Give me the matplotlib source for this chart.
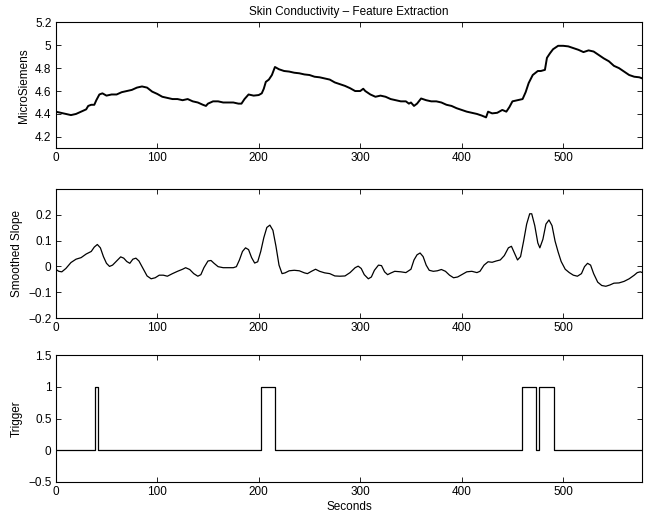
import matplotlib
matplotlib.use('Agg')
import matplotlib.pyplot as plt

plt.rcParams['font.family'] = ['Liberation Sans', 'DejaVu Sans']
plt.rcParams['font.size'] = 8.5

# skin conductivity (microsiemens)
sc_t = [0, 5, 10, 15, 20, 25, 30, 32, 35, 38, 40, 43, 46, 50, 55, 60, 65, 70, 75, 80,
        85, 90, 95, 100, 105, 110, 115, 120, 125, 130, 135, 140, 145, 148, 150, 155,
        160, 165, 170, 175, 180, 183, 186, 190, 195, 200, 203, 205, 207, 210, 213, 216,
        218, 220, 225, 230, 235, 240, 245, 250, 255, 260, 265, 270, 275, 280, 285, 290,
        295, 300, 303, 305, 310, 315, 320, 325, 330, 335, 340, 345, 348, 350, 353, 356,
        360, 365, 370, 375, 380, 385, 390, 395, 400, 405, 410, 415, 420, 424, 426, 430,
        435, 440, 444, 447, 450, 455, 460, 463, 466, 470, 475, 478, 482, 484, 487, 490,
        495, 500, 505, 510, 515, 520, 525, 530, 535, 540, 545, 550, 555, 560, 565, 570,
        575, 578]
sc_v = [4.42, 4.41, 4.40, 4.39, 4.40, 4.42, 4.44, 4.47, 4.48, 4.48, 4.52, 4.57, 4.58,
        4.56, 4.57, 4.57, 4.59, 4.60, 4.61, 4.63, 4.64, 4.63, 4.595, 4.575, 4.55, 4.54,
        4.53, 4.53, 4.52, 4.53, 4.51, 4.50, 4.48, 4.47, 4.49, 4.51, 4.51, 4.50, 4.50,
        4.50, 4.49, 4.49, 4.53, 4.57, 4.56, 4.565, 4.58, 4.62, 4.68, 4.70, 4.74, 4.81,
        4.80, 4.79, 4.775, 4.77, 4.76, 4.755, 4.745, 4.74, 4.725, 4.72, 4.71, 4.70,
        4.675, 4.66, 4.645, 4.625, 4.60, 4.60, 4.62, 4.60, 4.57, 4.55, 4.56, 4.55, 4.53,
        4.52, 4.51, 4.51, 4.49, 4.50, 4.47, 4.49, 4.535, 4.52, 4.51, 4.51, 4.50, 4.48,
        4.47, 4.45, 4.435, 4.42, 4.41, 4.40, 4.385, 4.37, 4.42, 4.405, 4.41, 4.435,
        4.42, 4.46, 4.51, 4.52, 4.53, 4.59, 4.67, 4.74, 4.775, 4.775, 4.785, 4.89, 4.93,
        4.965, 4.995, 4.995, 4.99, 4.975, 4.96, 4.94, 4.955, 4.945, 4.915, 4.885, 4.86,
        4.82, 4.80, 4.77, 4.74, 4.725, 4.72, 4.71]

# smoothed slope
sl_t = [0, 3, 6, 10, 15, 20, 25, 30, 35, 38, 41, 44, 47, 50, 53, 56, 60, 64, 67, 70,
        73, 76, 79, 82, 86, 90, 94, 98, 102, 106, 110, 115, 120, 125, 128, 132, 136,
        140, 143, 146, 150, 153, 156, 160, 165, 170, 175, 178, 181, 184, 187, 190, 193,
        196, 199, 202, 205, 208, 211, 214, 217, 220, 223, 226, 230, 235, 240, 245, 248,
        252, 256, 260, 265, 270, 275, 280, 285, 290, 295, 298, 301, 304, 308, 311, 314,
        318, 321, 324, 327, 330, 334, 340, 345, 350, 353, 356, 359, 362, 365, 368, 372,
        376, 380, 384, 388, 392, 396, 400, 405, 410, 415, 418, 422, 426, 430, 434, 438,
        442, 446, 449, 452, 455, 458, 461, 464, 467, 469, 472, 475, 477, 480, 483, 486,
        489, 492, 495, 498, 502, 506, 510, 514, 518, 521, 524, 527, 530, 534, 538, 542,
        546, 550, 555, 560, 565, 570, 573, 576, 578]
sl_v = [-0.011, -0.019, -0.021, -0.008, 0.015, 0.028, 0.034, 0.048, 0.058, 0.075,
        0.085, 0.072, 0.038, 0.012, 0.0, 0.005, 0.021, 0.037, 0.032, 0.019, 0.012,
        0.028, 0.032, 0.021, -0.008, -0.037, -0.048, -0.044, -0.034, -0.034, -0.038,
        -0.028, -0.019, -0.011, -0.005, -0.012, -0.028, -0.038, -0.032, -0.005, 0.021,
        0.023, 0.012, -0.001, -0.005, -0.005, -0.005, -0.001, 0.025, 0.058, 0.072,
        0.065, 0.034, 0.013, 0.018, 0.058, 0.111, 0.151, 0.160, 0.140, 0.078, 0.005,
        -0.028, -0.025, -0.017, -0.015, -0.017, -0.025, -0.028, -0.019, -0.011, -0.019,
        -0.025, -0.028, -0.037, -0.038, -0.037, -0.024, -0.005, 0.001, -0.008, -0.032,
        -0.048, -0.041, -0.015, 0.005, 0.003, -0.021, -0.032, -0.026, -0.019, -0.021,
        -0.024, -0.011, 0.025, 0.045, 0.052, 0.038, 0.005, -0.015, -0.019, -0.017,
        -0.012, -0.019, -0.034, -0.044, -0.041, -0.032, -0.021, -0.019, -0.024, -0.019,
        0.005, 0.018, 0.016, 0.021, 0.025, 0.042, 0.072, 0.078, 0.052, 0.025, 0.038,
        0.098, 0.164, 0.204, 0.204, 0.158, 0.091, 0.072, 0.105, 0.164, 0.180, 0.158,
        0.098, 0.056, 0.019, -0.011, -0.024, -0.034, -0.038, -0.028, -0.001, 0.012,
        0.005, -0.028, -0.061, -0.074, -0.077, -0.072, -0.065, -0.064, -0.058, -0.048,
        -0.034, -0.024, -0.021, -0.024]

# trigger on/off edges
trig_t = [0, 38.5, 38.5, 41.7, 41.7, 202.4, 202.4, 215.8, 215.8, 459.5, 459.5, 473.7,
          473.7, 476.5, 476.5, 491.1, 491.1, 578]
trig_v = [0, 0, 1, 1, 0, 0, 1, 1, 0, 0, 1, 1, 0, 0, 1, 1, 0, 0]

x_ticks = [0, 100, 200, 300, 400, 500]

fig = plt.figure(figsize=(6.45, 5.18), dpi=100)
ax1 = fig.add_axes([0.0864, 0.7137, 0.9095, 0.2432])
ax2 = fig.add_axes([0.0864, 0.3861, 0.9095, 0.2490])
ax3 = fig.add_axes([0.0864, 0.0695, 0.9095, 0.2450])

for ax in (ax1, ax2, ax3):
    ax.set_xlim(0, 578)
    ax.set_xticks(x_ticks)
    ax.tick_params(direction='in', length=3.6, width=0.6, top=True, right=True,
                   labelsize=8.5, pad=3, colors='black')
    for s in ax.spines.values():
        s.set_linewidth(0.8)

ax1.plot(sc_t, sc_v, color='black', lw=1.4)
ax1.set_ylim(4.1, 5.2)
ax1.set_yticks([4.2, 4.4, 4.6, 4.8, 5.0, 5.2])
ax1.set_yticklabels(['4.2', '4.4', '4.6', '4.8', '5', '5.2'])
ax1.set_ylabel('MicroSiemens')
ax1.set_title('Skin Conductivity \u2013 Feature Extraction', fontsize=8.5, pad=5)

ax2.plot(sl_t, sl_v, color='black', lw=0.9)
ax2.set_ylim(-0.2, 0.3)
ax2.set_yticks([-0.2, -0.1, 0, 0.1, 0.2])
ax2.set_yticklabels(['\u22120.2', '\u22120.1', '0', '0.1', '0.2'])
ax2.set_ylabel('Smoothed Slope')

ax3.plot(trig_t, trig_v, color='black', lw=0.9)
ax3.set_ylim(-0.5, 1.5)
ax3.set_yticks([-0.5, 0, 0.5, 1, 1.5])
ax3.set_yticklabels(['\u22120.5', '0', '0.5', '1', '1.5'])
ax3.set_ylabel('Trigger')
ax3.set_xlabel('Seconds', labelpad=2)

fig.savefig('out.png', dpi=100)
